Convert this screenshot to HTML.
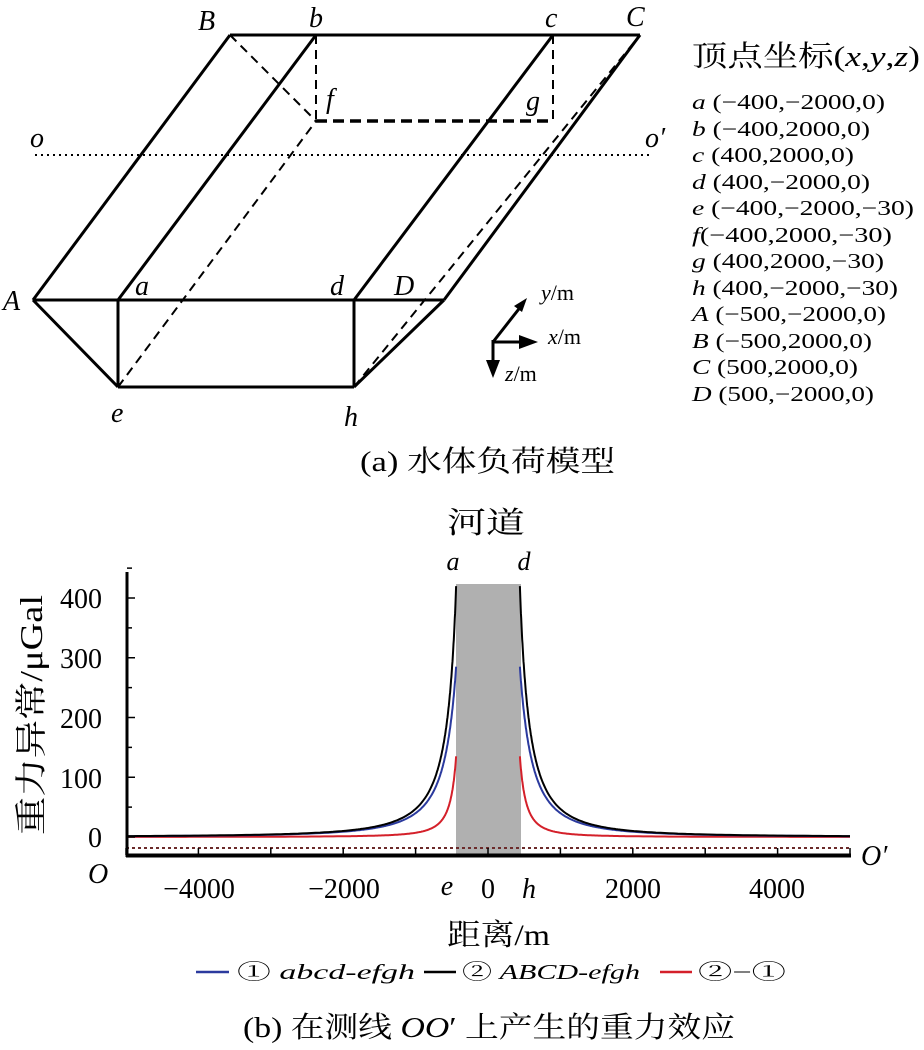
<!DOCTYPE html>
<html><head><meta charset="utf-8"><style>
html,body{margin:0;padding:0;background:#fff;}
svg{display:block;}
text{font-family:"Liberation Serif","Noto Serif CJK SC","Noto Sans CJK SC",serif;fill:#000;}
.i{font-style:italic;}
</style></head><body>
<svg width="924" height="1050" viewBox="0 0 924 1050" xmlns="http://www.w3.org/2000/svg">
<g stroke="#000" stroke-width="3" fill="none">
<line x1="230" y1="35" x2="640" y2="35"/>
<line x1="33" y1="300" x2="444" y2="300"/>
<line x1="33" y1="300" x2="230" y2="35"/>
<line x1="118" y1="300" x2="316" y2="35"/>
<line x1="354" y1="300" x2="553" y2="35"/>
<line x1="444" y1="300" x2="640" y2="35"/>
<line x1="33" y1="300" x2="118" y2="387"/>
<line x1="444" y1="300" x2="354" y2="387"/>
<line x1="118" y1="387" x2="354" y2="387"/>
<line x1="118" y1="300" x2="118" y2="387"/>
<line x1="354" y1="300" x2="354" y2="387"/>
</g>
<g stroke="#000" stroke-width="2" fill="none" stroke-dasharray="9,6">
<line x1="230" y1="35" x2="316" y2="121"/>
<line x1="316" y1="35" x2="316" y2="121"/>
<line x1="553" y1="35" x2="553" y2="121"/>
<line x1="118" y1="387" x2="316" y2="121"/>
<line x1="354" y1="387" x2="636" y2="40"/>
</g>
<line x1="316" y1="121" x2="553" y2="121" stroke="#000" stroke-width="3.5" stroke-dasharray="11,6"/>
<line x1="35" y1="155" x2="652" y2="155" stroke="#000" stroke-width="2" stroke-dasharray="2,4"/>
<g font-size="28">
<text x="198" y="30" class="i">B</text>
<text x="309" y="27" class="i">b</text>
<text x="545" y="27" class="i">c</text>
<text x="626" y="26" class="i">C</text>
<text x="326" y="108" class="i">f</text>
<text x="526" y="110" class="i">g</text>
<text x="30" y="147" class="i">o</text>
<text x="645" y="147" class="i">o′</text>
<text x="3" y="310" class="i">A</text>
<text x="135" y="295" class="i">a</text>
<text x="330" y="295" class="i">d</text>
<text x="394" y="295" class="i">D</text>
<text x="111" y="422" class="i">e</text>
<text x="344" y="426" class="i">h</text>
</g>
<g stroke="#000" stroke-width="3" fill="#000">
<line x1="493" y1="342" x2="522" y2="305"/>
<polygon points="527,298 514,306 522,312" stroke="none"/>
<line x1="493" y1="342" x2="520" y2="342"/>
<polygon points="538,342 519,335 519,349" stroke="none"/>
<line x1="493" y1="340" x2="493" y2="362"/>
<polygon points="493,378 486,360 500,360" stroke="none"/>
</g>
<text x="541" y="300" font-size="22"><tspan class="i">y</tspan>/m</text>
<text x="548" y="344" font-size="22"><tspan class="i">x</tspan>/m</text>
<text x="505" y="381" font-size="22"><tspan class="i">z</tspan>/m</text>
<text x="692" y="66" font-size="29" textLength="228" lengthAdjust="spacingAndGlyphs">顶点坐标(<tspan class="i">x</tspan>,<tspan class="i">y</tspan>,<tspan class="i">z</tspan>)</text>
<g font-size="21">
<text x="692" y="109" textLength="193" lengthAdjust="spacingAndGlyphs"><tspan class="i">a</tspan> (−400,−2000,0)</text>
<text x="692" y="136" textLength="178" lengthAdjust="spacingAndGlyphs"><tspan class="i">b</tspan> (−400,2000,0)</text>
<text x="692" y="162" textLength="162" lengthAdjust="spacingAndGlyphs"><tspan class="i">c</tspan> (400,2000,0)</text>
<text x="692" y="189" textLength="178" lengthAdjust="spacingAndGlyphs"><tspan class="i">d</tspan> (400,−2000,0)</text>
<text x="692" y="215" textLength="222" lengthAdjust="spacingAndGlyphs"><tspan class="i">e</tspan> (−400,−2000,−30)</text>
<text x="692" y="242" textLength="200" lengthAdjust="spacingAndGlyphs"><tspan class="i">f</tspan>(−400,2000,−30)</text>
<text x="692" y="268" textLength="192" lengthAdjust="spacingAndGlyphs"><tspan class="i">g</tspan> (400,2000,−30)</text>
<text x="692" y="295" textLength="206" lengthAdjust="spacingAndGlyphs"><tspan class="i">h</tspan> (400,−2000,−30)</text>
<text x="692" y="321" textLength="194" lengthAdjust="spacingAndGlyphs"><tspan class="i">A</tspan> (−500,−2000,0)</text>
<text x="692" y="348" textLength="180" lengthAdjust="spacingAndGlyphs"><tspan class="i">B</tspan> (−500,2000,0)</text>
<text x="692" y="374" textLength="166" lengthAdjust="spacingAndGlyphs"><tspan class="i">C</tspan> (500,2000,0)</text>
<text x="692" y="401" textLength="182" lengthAdjust="spacingAndGlyphs"><tspan class="i">D</tspan> (500,−2000,0)</text>
</g>
<text x="360" y="471" font-size="29" textLength="255" lengthAdjust="spacingAndGlyphs">(a) 水体负荷模型</text>

<text x="447" y="533" font-size="30" textLength="78" lengthAdjust="spacingAndGlyphs">河道</text>
<text x="453" y="570" font-size="26" class="i" text-anchor="middle">a</text>
<text x="524" y="570" font-size="26" class="i" text-anchor="middle">d</text>
<rect x="456" y="584" width="65" height="271" fill="#b0b0b0"/>
<line x1="126" y1="848" x2="850" y2="848" stroke="#6b2a2a" stroke-width="2" stroke-dasharray="3,3"/>
<g id="curves" fill="none" stroke-width="2"></g>
<line x1="127" y1="572" x2="127" y2="857" stroke="#000" stroke-width="3"/>
<line x1="126" y1="855.5" x2="851" y2="855.5" stroke="#000" stroke-width="4"/>
<g id="ticks" stroke="#000" stroke-width="1.5"></g>
<g font-size="28" text-anchor="end">
<text x="102" y="608">400</text>
<text x="102" y="668">300</text>
<text x="102" y="728">200</text>
<text x="102" y="788">100</text>
<text x="102" y="847">0</text>
</g>
<text x="88" y="883" font-size="28" class="i">O</text>
<text x="861" y="865" font-size="28" class="i">O′</text>
<g font-size="28" text-anchor="middle">
<text x="199" y="898">−4000</text>
<text x="344" y="898">−2000</text>
<text x="488" y="898">0</text>
<text x="633" y="898">2000</text>
<text x="777" y="898">4000</text>
<text x="447" y="895" class="i">e</text>
<text x="529" y="898" class="i">h</text>
</g>
<text x="447" y="945" font-size="30" textLength="103" lengthAdjust="spacingAndGlyphs">距离/m</text>
<text transform="translate(42,715) rotate(-90)" font-size="32" text-anchor="middle" textLength="240" lengthAdjust="spacingAndGlyphs">重力异常/μGal</text>
<line x1="196" y1="972" x2="229" y2="972" stroke="#2b3a9e" stroke-width="2.5"/>
<text x="237" y="979" font-size="21" textLength="178" lengthAdjust="spacingAndGlyphs">① <tspan class="i">abcd-efgh</tspan></text>
<line x1="424" y1="972" x2="456" y2="972" stroke="#000" stroke-width="2.5"/>
<text x="462" y="979" font-size="21" textLength="178" lengthAdjust="spacingAndGlyphs">② <tspan class="i">ABCD-efgh</tspan></text>
<line x1="660" y1="972" x2="692" y2="972" stroke="#d4202a" stroke-width="2.5"/>
<text x="698" y="979" font-size="21" textLength="88" lengthAdjust="spacingAndGlyphs">②−①</text>
<text x="243" y="1037" font-size="29" textLength="492" lengthAdjust="spacingAndGlyphs">(b) 在测线 <tspan class="i">OO</tspan>′ 上产生的重力效应</text>
</svg>
<script>
(function(){
var px=function(x){return 488+x*0.0724;}, py=function(v){return 837-v*0.5975;};
function blue(d){return 31980000/((d+295)*(d+295));}
function red(d){return 3720000/((d+126)*(d+126));}
function path(f,side){
  var pts=[];
  for(var d=40; d<=4600; d+= (d<300?3:(d<1500?15:60))){
    pts.push([px(side*(400+d)),py(f(d))]);
  }
  pts.push([px(side*5000),py(f(4600))]);
  var s='';
  for(var i=0;i<pts.length;i++) s+=(i?'L':'M')+pts[i][0].toFixed(1)+','+pts[i][1].toFixed(1);
  return s;
}
var g=document.getElementById('curves');
var defs=[[function(d){return red(d);},'#d4202a'],[function(d){return blue(d);},'#2b3a9e'],[function(d){return blue(d)+red(d);},'#000']];
defs.forEach(function(df){
  [-1,1].forEach(function(sd){
    var p=document.createElementNS('http://www.w3.org/2000/svg','path');
    p.setAttribute('d',path(df[0],sd));p.setAttribute('stroke',df[1]);
    g.appendChild(p);
  });
});
var t=document.getElementById('ticks');
function ln(x1,y1,x2,y2){var l=document.createElementNS('http://www.w3.org/2000/svg','line');
l.setAttribute('x1',x1);l.setAttribute('y1',y1);l.setAttribute('x2',x2);l.setAttribute('y2',y2);t.appendChild(l);}
for(var v=0;v<=450;v+=50){var y=py(v);ln(127,y,(v%100==0)?135:132,y);}
for(var x=-5000;x<=5000;x+=1000){var X=px(x);ln(X,855,X,848);}
})();
</script>
</body></html>
